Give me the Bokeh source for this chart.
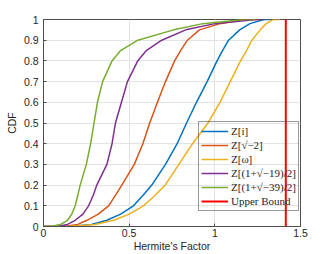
from bokeh.plotting import figure
from bokeh.models import Legend, LegendItem, FixedTicker, Range1d
from bokeh.embed import file_html
from bokeh.resources import INLINE

# ---- data (CDF level -> Hermite's factor per series) ----
cdf_levels = [0, 0, 0.01, 0.03, 0.06, 0.1, 0.15, 0.2, 0.3, 0.4, 0.5, 0.6, 0.7, 0.8, 0.85, 0.9, 0.95, 0.98, 1.0, 1.0]

x_zi     = [0, 0.15, 0.28, 0.37, 0.45, 0.525, 0.58, 0.632, 0.712, 0.78, 0.835, 0.893, 0.955, 1.013, 1.045, 1.08, 1.145, 1.205, 1.285, 1.32]
x_zsqrt2 = [0, 0.12, 0.20, 0.253, 0.32, 0.38, 0.42, 0.457, 0.53, 0.58, 0.62, 0.665, 0.712, 0.765, 0.80, 0.84, 0.91, 1.03, 1.17, 1.26]
x_zomega = [0, 0.15, 0.30, 0.41, 0.50, 0.584, 0.65, 0.71, 0.79, 0.87, 0.96, 1.03, 1.09, 1.15, 1.185, 1.216, 1.265, 1.30, 1.34, 1.38]
x_z19    = [0, 0.08, 0.14, 0.185, 0.23, 0.263, 0.29, 0.311, 0.37, 0.40, 0.42, 0.455, 0.49, 0.55, 0.60, 0.69, 0.83, 1.0, 1.24, 1.29]
x_z39    = [0, 0.04, 0.10, 0.14, 0.165, 0.185, 0.20, 0.214, 0.25, 0.275, 0.295, 0.315, 0.345, 0.40, 0.45, 0.55, 0.76, 0.93, 1.17, 1.24]
upper_bound = 1.4142

series_labels = ["Z[i]", "Z[√−2]", "Z[ω]", "Z[(1+√−19)/2]", "Z[(1+√−39)/2]", "Upper Bound"]
x_ticks = [0, 0.5, 1, 1.5]
x_tick_labels = ["0", "0.5", "1", "1.5"]
y_ticks = [0, 0.1, 0.2, 0.3, 0.4, 0.5, 0.6, 0.7, 0.8, 0.9, 1.0]
y_tick_labels = ["0", "0.1", "0.2", "0.3", "0.4", "0.5", "0.6", "0.7", "0.8", "0.9", "1"]

colors = ["#0072BD", "#D95319", "#EDB120", "#7E2F8E", "#77AC30", "#FF0000"]

FONT = "Liberation Sans"

p = figure(width=330, height=254, output_backend="svg", toolbar_location=None,
           x_range=Range1d(0, 1.5), y_range=Range1d(0, 1),
           min_border_left=43, min_border_right=30, min_border_top=19, min_border_bottom=28)

renderers = []
for xs, c in zip([x_zi, x_zsqrt2, x_zomega, x_z19, x_z39], colors[:5]):
    renderers.append(p.line(xs, cdf_levels, line_color=c, line_width=1.5))
renderers.append(p.line([upper_bound, upper_bound], [0, 1], line_color=colors[5], line_width=2))

for ax, ticks, labels in [(p.xaxis, x_ticks, x_tick_labels), (p.yaxis, y_ticks, y_tick_labels)]:
    ax.ticker = FixedTicker(ticks=ticks)
    ax.major_label_overrides = {t: l for t, l in zip(ticks, labels)}
    ax.major_tick_in = 3
    ax.major_tick_out = 0
    ax.minor_tick_in = 0
    ax.minor_tick_out = 0
    ax.axis_line_color = "#4d4d4d"
    ax.major_tick_line_color = "#4d4d4d"
    ax.major_label_text_font = FONT
    ax.major_label_text_font_size = "10.5px"
    ax.major_label_text_color = "#262626"
    ax.axis_label_text_font = FONT
    ax.axis_label_text_font_size = "10.5px"
    ax.axis_label_text_font_style = "normal"
    ax.axis_label_text_color = "#262626"

p.xaxis.major_label_standoff = 2
p.xaxis.axis_label_standoff = 0
p.yaxis.major_label_standoff = 5
p.yaxis.axis_label_standoff = 3

p.xaxis.axis_label = "Hermite's Factor"
p.yaxis.axis_label = "CDF"

p.xgrid.ticker = FixedTicker(ticks=x_ticks)
p.ygrid.ticker = FixedTicker(ticks=y_ticks)
p.grid.grid_line_color = "#e3e3e3"
p.grid.grid_line_width = 1

p.outline_line_color = "#4d4d4d"
p.outline_line_width = 1
p.outline_line_alpha = 1

items = [LegendItem(label=l, renderers=[r]) for l, r in zip(series_labels, renderers)]
legend = Legend(items=items, location=(155, 15),
                label_text_font="Liberation Serif", label_text_font_size="11px",
                label_text_color="#262626",
                glyph_width=27, glyph_height=14, label_height=14, label_standoff=3,
                spacing=0, padding=2, margin=0,
                border_line_color="#333333", border_line_width=1,
                background_fill_alpha=0)
p.add_layout(legend, "center")

open("out.html", "w").write(file_html(p, INLINE))
